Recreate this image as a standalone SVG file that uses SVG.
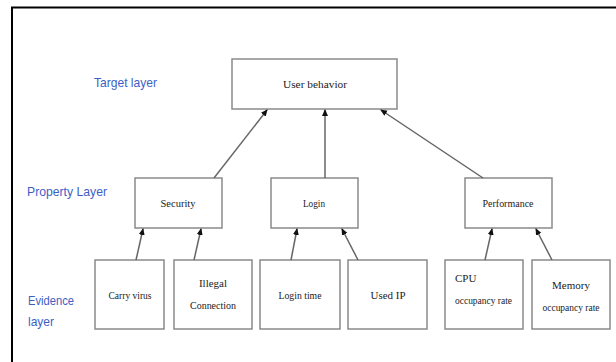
<svg xmlns="http://www.w3.org/2000/svg" width="616" height="362" viewBox="0 0 616 362">
<defs>
<marker id="ah" markerWidth="7" markerHeight="7" refX="6" refY="3.5" orient="auto" markerUnits="userSpaceOnUse">
<path d="M0,0.5 L7,3.5 L0,6.5 Z" fill="#111"/>
</marker>
<style>
.box{fill:#fff;stroke:#8a8a8a;stroke-width:1.5}
.t{font-family:"Liberation Serif",serif;font-size:11px;fill:#222;text-anchor:middle}
.tl{font-family:"Liberation Serif",serif;font-size:11px;fill:#222}
.layer{font-family:"Liberation Sans",sans-serif;font-size:13px;fill:#3d5fc4}
.con{stroke:#666;stroke-width:1.5;fill:none;marker-end:url(#ah)}
</style>
</defs>
<rect x="0" y="0" width="616" height="362" fill="#fff"/>
<path d="M12,362 L12,7.5 L616,7.5" fill="none" stroke="#000" stroke-width="2"/>
<g id="labels">
<text class="layer" x="94" y="87" textLength="63" lengthAdjust="spacingAndGlyphs">Target layer</text>
<text class="layer" x="27" y="196" textLength="80" lengthAdjust="spacingAndGlyphs">Property Layer</text>
<text class="layer" x="28" y="305" textLength="46" lengthAdjust="spacingAndGlyphs">Evidence</text>
<text class="layer" x="28" y="326" textLength="26" lengthAdjust="spacingAndGlyphs">layer</text>
</g>
<g id="user-behavior"><rect class="box" x="232" y="59" width="165" height="50"/><text class="t" x="315" y="88" textLength="64" lengthAdjust="spacingAndGlyphs">User behavior</text></g>
<g id="security"><rect class="box" x="135" y="178" width="87" height="50"/><text class="t" x="178" y="207" textLength="35" lengthAdjust="spacingAndGlyphs">Security</text></g>
<g id="login"><rect class="box" x="271" y="178" width="87" height="50"/><text class="t" x="314" y="207" textLength="22" lengthAdjust="spacingAndGlyphs">Login</text></g>
<g id="performance"><rect class="box" x="465" y="178" width="87" height="50"/><text class="t" x="508" y="207" textLength="51" lengthAdjust="spacingAndGlyphs">Performance</text></g>
<g id="carry-virus"><rect class="box" x="95" y="260" width="69" height="69"/><text class="t" x="130" y="299" textLength="43" lengthAdjust="spacingAndGlyphs">Carry virus</text></g>
<g id="illegal-connection"><rect class="box" x="174" y="260" width="78" height="69"/><text class="t" x="213" y="287">Illegal</text><text class="t" x="213" y="309" textLength="46" lengthAdjust="spacingAndGlyphs">Connection</text></g>
<g id="login-time"><rect class="box" x="260" y="260" width="80" height="69"/><text class="t" x="300" y="299" textLength="43" lengthAdjust="spacingAndGlyphs">Login time</text></g>
<g id="used-ip"><rect class="box" x="348" y="260" width="79" height="69"/><text class="t" x="388" y="299" textLength="35" lengthAdjust="spacingAndGlyphs">Used IP</text></g>
<g id="cpu"><rect class="box" x="445" y="260" width="78" height="69"/><text class="tl" x="455" y="282">CPU</text><text class="tl" x="455" y="304" textLength="57" lengthAdjust="spacingAndGlyphs">occupancy rate</text></g>
<g id="memory"><rect class="box" x="532" y="260" width="78" height="69"/><text class="t" x="571" y="289">Memory</text><text class="t" x="571" y="311" textLength="57" lengthAdjust="spacingAndGlyphs">occupancy rate</text></g>
<g id="connectors">
<line class="con" x1="214" y1="178" x2="267" y2="110"/>
<line class="con" x1="325" y1="178" x2="325" y2="110"/>
<line class="con" x1="483" y1="178" x2="381" y2="110"/>
<line class="con" x1="136" y1="260" x2="143" y2="229"/>
<line class="con" x1="194" y1="260" x2="201" y2="229"/>
<line class="con" x1="291" y1="260" x2="297" y2="229"/>
<line class="con" x1="358" y1="260" x2="342" y2="229"/>
<line class="con" x1="485" y1="260" x2="492" y2="229"/>
<line class="con" x1="552" y1="260" x2="536" y2="229"/>
</g>
</svg>
